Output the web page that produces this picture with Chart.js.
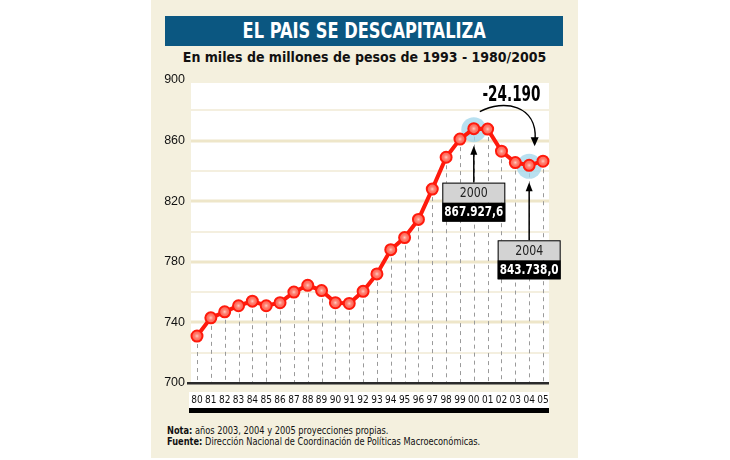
<!DOCTYPE html>
<html>
<head>
<meta charset="utf-8">
<script src="https://cdn.jsdelivr.net/npm/chart.js@4.4.1/dist/chart.umd.min.js"></script>
<style>
  html, body { margin: 0; padding: 0; background: #fff; }
  body { width: 730px; height: 460px; position: relative; overflow: hidden;
         font-family: "DejaVu Sans", sans-serif; font-stretch: condensed; }
  #panel { position: absolute; left: 151px; top: 0; width: 427px; height: 458px; background: #f4f0de; }
  #title { position: absolute; left: 165px; top: 16px; width: 398px; height: 30px; background: #0b5781;
           color: #fff; font-weight: bold; font-size: 20.5px; line-height: 31px; text-align: center; }
  #title span { display: inline-block; transform: scaleX(0.88); }
  #sub { position: absolute; left: 151px; top: 49px; width: 427px; text-align: center;
         font-weight: bold; font-size: 14px; color: #111; }
  #notes { position: absolute; left: 167px; top: 425px; font-size: 10.8px; line-height: 11px; color: #111;
           transform: scaleX(0.85); transform-origin: left top; white-space: nowrap; }
  canvas { position: absolute; left: 0; top: 0; }
</style>
</head>
<body>
<div id="panel"></div>
<div id="title"><span>EL PAIS SE DESCAPITALIZA</span></div>
<div id="sub">En miles de millones de pesos de 1993 - 1980/2005</div>
<div id="notes"><b>Nota:</b> años 2003, 2004 y 2005 proyecciones propias.<br><b>Fuente:</b> Dirección Nacional de Coordinación de Políticas Macroeconómicas.</div>
<canvas id="c" width="730" height="460"></canvas>
<script>
"use strict";

// ---- data (miles de millones de pesos de 1993) ----
const years = ["80","81","82","83","84","85","86","87","88","89","90","91","92",
               "93","94","95","96","97","98","99","00","01","02","03","04","05"];
const capital = [731, 743, 747, 751, 754, 751, 753, 760, 764.5, 761, 753, 752.5, 760.5,
                 772, 788, 796, 808, 828, 849, 861, 867.9, 867.6, 853, 845.5, 843.7, 846.4];
const yTicks = [700, 740, 780, 820, 860, 900];
const highlights = [
  { idx: 20, year: "2000", value: "867.927,6", drop: 54 },
  { idx: 24, year: "2004", value: "843.738,0", drop: 75 },
];
const diffLabel = "-24.190";

const RED = "#ff1a0c";
const FONT = "'DejaVu Sans', sans-serif";

// ---- background, grid, halos, callouts ----
const backdrop = {
  id: "backdrop",
  beforeDraw(chart) {
    const { ctx, chartArea: a, scales: { y } } = chart;
    const left = a.left - 6, right = a.right + 6;
    const top = y.getPixelForValue(900) + 3;
    ctx.save();
    ctx.fillStyle = "#fff";
    ctx.fillRect(left, top, right - left, a.bottom - top);
    // horizontal bands every 20
    for (let v = 720; v < 900; v += 20) {
      const py = Math.round(y.getPixelForValue(v));
      const major = v % 40 === 20;
      ctx.fillStyle = major ? "#eee6c9" : "#f4efdf";
      ctx.fillRect(left, py - (major ? 1.5 : 1), right - left, major ? 3 : 2);
    }
    // x label strip
    ctx.fillStyle = "#fff";
    ctx.fillRect(left - 2, a.bottom + 9, right - left + 2, 16);
    ctx.fillStyle = "#000";
    ctx.fillRect(left - 2, a.bottom + 25, right - left + 2, 5);
    ctx.restore();
  },
  beforeDatasetsDraw(chart) {
    const { ctx, chartArea: a } = chart;
    const left = a.left - 6, right = a.right + 6;
    const meta = chart.getDatasetMeta(0);
    ctx.save();
    // dashed drop lines
    ctx.strokeStyle = "#9a9a9a";
    ctx.lineWidth = 1;
    ctx.setLineDash([4, 4]);
    meta.data.forEach((p) => {
      ctx.beginPath();
      ctx.moveTo(Math.round(p.x) + 0.5, p.y);
      ctx.lineTo(Math.round(p.x) + 0.5, a.bottom);
      ctx.stroke();
    });
    ctx.setLineDash([]);
    // axis line
    ctx.fillStyle = "#2a2a2a";
    ctx.fillRect(left - 4, a.bottom - 1, right - left + 4, 2.5);
    // halos
    ctx.fillStyle = "rgba(160, 214, 235, 0.75)";
    highlights.forEach((h) => {
      const p = meta.data[h.idx];
      ctx.beginPath();
      ctx.arc(p.x, p.y + 1, 12.5, 0, Math.PI * 2);
      ctx.fill();
    });
    ctx.restore();
  },
  afterDatasetsDraw(chart) {
    const { ctx } = chart;
    const meta = chart.getDatasetMeta(0);
    ctx.save();
    // point highlights
    meta.data.forEach((p) => {
      const g = ctx.createRadialGradient(p.x, p.y, 0, p.x, p.y, 4);
      g.addColorStop(0, "rgba(255,215,205,0.95)");
      g.addColorStop(1, "rgba(255,120,100,0)");
      ctx.fillStyle = g;
      ctx.beginPath();
      ctx.arc(p.x, p.y, 4, 0, Math.PI * 2);
      ctx.fill();
    });
    // callout boxes with arrows
    highlights.forEach((h) => {
      const p = meta.data[h.idx];
      const top = p.y + h.drop, w = 63, bx = p.x - w / 2;
      ctx.strokeStyle = "#000";
      ctx.fillStyle = "#000";
      ctx.lineWidth = 1.5;
      ctx.beginPath();
      ctx.moveTo(p.x, top);
      ctx.lineTo(p.x, p.y + 24);
      ctx.stroke();
      ctx.beginPath();
      ctx.moveTo(p.x, p.y + 17);
      ctx.lineTo(p.x - 3.5, p.y + 26);
      ctx.lineTo(p.x + 3.5, p.y + 26);
      ctx.closePath();
      ctx.fill();
      ctx.fillStyle = "#d3d3d3";
      ctx.fillRect(bx, top, w, 20);
      ctx.fillStyle = "#000";
      ctx.fillRect(bx, top + 20, w, 19);
      ctx.lineWidth = 1;
      ctx.strokeRect(bx + 0.5, top + 0.5, w - 1, 38);
      ctx.textAlign = "center";
      ctx.textBaseline = "middle";
      ctx.fillStyle = "#222";
      ctx.font = "14px " + FONT;
      ctx.fillText(h.year, p.x, top + 11, 28);
      ctx.fillStyle = "#fff";
      ctx.font = "bold 14px " + FONT;
      ctx.fillText(h.value, p.x, top + 30, 59);
    });
    // curved arrow with the difference
    const p0 = meta.data[highlights[0].idx], p1 = meta.data[highlights[1].idx];
    ctx.strokeStyle = "#000";
    ctx.lineWidth = 1.5;
    ctx.beginPath();
    ctx.moveTo(p0.x + 6, p0.y - 17);
    ctx.bezierCurveTo(p0.x + 30, p0.y - 30, p1.x + 8, p1.y - 60, p1.x + 6, p1.y - 26);
    ctx.stroke();
    ctx.fillStyle = "#000";
    ctx.beginPath();
    ctx.moveTo(p1.x + 5.5, p1.y - 19);
    ctx.lineTo(p1.x + 1.5, p1.y - 28);
    ctx.lineTo(p1.x + 9.5, p1.y - 28);
    ctx.closePath();
    ctx.fill();
    ctx.font = "bold 21px " + FONT;
    ctx.textAlign = "center";
    ctx.textBaseline = "middle";
    ctx.fillText(diffLabel, (p0.x + p1.x) / 2 + 10, p0.y - 33, 58);
    ctx.restore();
  },
};

new Chart(document.getElementById("c"), {
  type: "line",
  data: {
    labels: years,
    datasets: [{
      data: capital,
      borderColor: RED, borderWidth: 4,
      pointRadius: 5.5, pointBorderWidth: 2,
      pointBackgroundColor: "#ff6d5e", pointBorderColor: RED,
      tension: 0,
    }],
  },
  options: {
    responsive: false, animation: false, devicePixelRatio: 1,
    layout: { padding: { left: 157, right: 187, top: 80, bottom: 47 } },
    plugins: { legend: { display: false }, tooltip: { enabled: false } },
    scales: {
      x: {
        offset: false,
        grid: { display: false, drawTicks: false },
        border: { display: false },
        ticks: { color: "#111", padding: 11, maxRotation: 0, autoSkip: false,
                 font: { family: "'DejaVu Sans Condensed', 'DejaVu Sans', sans-serif", size: 10 } },
        afterFit: (s) => { s.height = 30; },
      },
      y: {
        min: 700, max: 900,
        afterBuildTicks: (s) => { s.ticks = yTicks.map((v) => ({ value: v })); },
        grid: { display: false, drawTicks: false },
        border: { display: false },
        ticks: { color: "#111", padding: 12,
                 font: { family: "'Liberation Sans', 'DejaVu Sans', sans-serif", size: 12.5 } },
        afterFit: (s) => { s.width = 40; },
      },
    },
  },
  plugins: [backdrop],
});
</script>
</body>
</html>
